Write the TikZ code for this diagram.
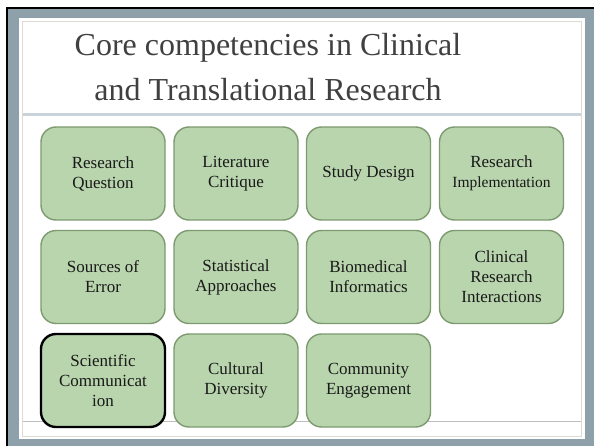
\documentclass[tikz,border=0pt]{standalone}
\usepackage{fontspec}
\setmainfont{Liberation Serif}
\usepackage{xcolor}
\definecolor{frameg}{HTML}{8EA1AA}
\definecolor{boxfill}{HTML}{B9D5AD}
\definecolor{boxedge}{HTML}{7E9A70}
\definecolor{titlec}{HTML}{404040}
\definecolor{sepc}{HTML}{C9D3D9}
\definecolor{panelline}{HTML}{DCDCD4}
\begin{document}
\begin{tikzpicture}[x=1pt,y=-1pt,
  card/.style={draw=boxedge,line width=1.4pt,fill=boxfill,rounded corners=15pt,
    minimum width=124pt,minimum height=93pt,inner sep=0pt,align=center,
    font=\fontsize{17}{20}\selectfont,text=black!90},
  hicard/.style={card,draw=black,line width=2.4pt}]
\useasboundingbox (0,0) rectangle (594,446);
% frame
\fill[white] (0,0) rectangle (594,446);
\fill[frameg] (7,8) rectangle (594,446);
\draw[black,line width=2.2pt] (7,446) -- (7,8) -- (594,8);
\fill[white] (19,18) rectangle (585,439);
\draw[panelline,line width=1pt] (22.5,21.5) rectangle (581.5,436);
\fill[sepc] (23,113) rectangle (581,116.5);
\draw[black!25,line width=0.8pt] (23,421) -- (581,421);
% title
\node[text=titlec,font=\fontsize{32}{45}\selectfont,align=center] (title) at (268,67)
  {Core competencies in Clinical\\and Translational Research};
% boxes
\node[card] (rq) at (103,173.5) {Research\\Question};
\node[card] (lc) at (236,173.5) {Literature\\Critique};
\node[card] (sd) at (368.5,173.5) {Study Design};
\node[card] (ri) at (501.5,173.5) {Research\\{\fontsize{15.5}{18}\selectfont Implementation}};
\node[card] (se) at (103,277) {Sources of\\Error};
\node[card] (sa) at (236,277) {Statistical\\Approaches};
\node[card] (bi) at (368.5,277) {Biomedical\\Informatics};
\node[card] (cr) at (501.5,277) {Clinical\\Research\\Interactions};
\node[hicard] (sc) at (103,380.5) {Scientific\\Communicat\\ion};
\node[card] (cd) at (236,380.5) {Cultural\\Diversity};
\node[card] (ce) at (368.5,380.5) {Community\\Engagement};
\end{tikzpicture}
\end{document}
